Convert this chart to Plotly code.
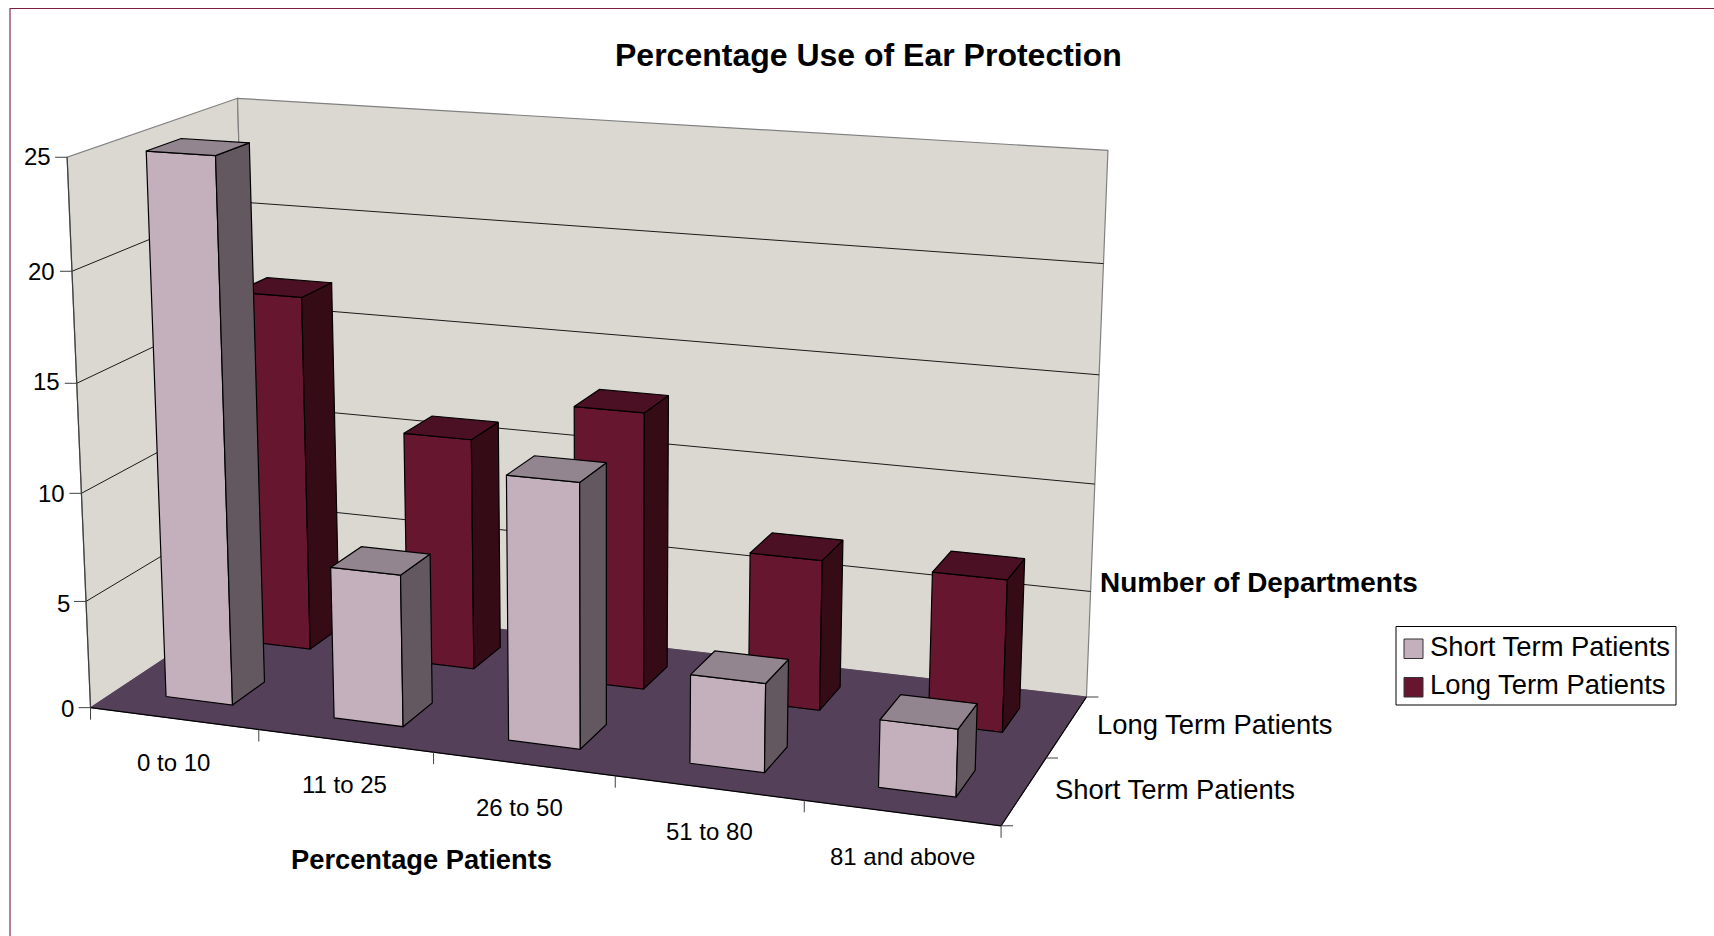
import numpy as np
import plotly.graph_objects as go

# Chart data
categories = ["0 to 10", "11 to 25", "26 to 50", "51 to 80", "81 and above"]
series_names = ["Short Term Patients", "Long Term Patients"]
short_term = [25, 7, 12, 4, 3]
long_term = [17, 11, 13, 7, 7]
z_ticks = [0, 5, 10, 15, 20, 25]
z_max = 25

FONT = "Liberation Sans"
SHORT = dict(front="#C3B0BC", side="#63585F", top="#93858F")
LONG = dict(front="#66172F", side="#350B16", top="#4B1023")
WALL = "#DAD8D0"
FLOOR = "#55405A"
EDGE = "#808080"

# Pinhole camera for the 3D box: unit-cube corners (x, y, z) and where they land on the page.
cube = [(0, 0, 0), (1, 0, 0), (1, 1, 0), (0, 1, 0), (0, 1, 1), (1, 1, 1), (0, 0, 1)]
page = [(90.7, 708), (1000.7, 826), (1086.7, 696.7), (252, 600.4),
        (237.3, 98.7), (1108, 150.5), (67.3, 156.7)]


def solve_camera(world, image):
    rows = []
    for (x, y, z), (u, v) in zip(world, image):
        rows.append([x, y, z, 1, 0, 0, 0, 0, -u * x, -u * y, -u * z, -u])
        rows.append([0, 0, 0, 0, x, y, z, 1, -v * x, -v * y, -v * z, -v])
    return np.linalg.svd(np.array(rows, float))[2][-1].reshape(3, 4)


CAMERA = solve_camera(cube, page)


def project(x, y, z):
    """x in category units (0..5), y in series units (0..2), z in departments."""
    p = CAMERA @ np.array([x / len(categories), y / 2, z / z_max, 1.0])
    return float(p[0] / p[2]), float(p[1] / p[2])


def polygon(points):
    xy = [project(*pt) for pt in points + points[:1]]
    return [a for a, _ in xy], [b for _, b in xy]


fig = go.Figure()


def add_face(points, fill, line_color="black", line_width=1.2, name=None):
    xs, ys = polygon(points)
    fig.add_trace(go.Scatter(x=xs, y=ys, mode="lines", fill="toself", fillcolor=fill,
                             line=dict(color=line_color, width=line_width),
                             showlegend=False, hoverinfo="skip", name=name))


def add_line(a, b, color="black", width=1.0):
    xs, ys = zip(project(*a), project(*b))
    fig.add_trace(go.Scatter(x=xs, y=ys, mode="lines", line=dict(color=color, width=width),
                             showlegend=False, hoverinfo="skip"))


def add_tick(x0, y0, dx, dy):
    fig.add_trace(go.Scatter(x=[x0, x0 + dx], y=[y0, y0 + dy], mode="lines",
                             line=dict(color="#404040", width=1), showlegend=False, hoverinfo="skip"))


n = len(categories)

# Walls and floor
add_face([(0, 0, 0), (0, 2, 0), (0, 2, z_max), (0, 0, z_max)], WALL, EDGE, 1.2)
add_face([(0, 2, 0), (n, 2, 0), (n, 2, z_max), (0, 2, z_max)], WALL, EDGE, 1.2)
add_face([(0, 0, 0), (n, 0, 0), (n, 2, 0), (0, 2, 0)], FLOOR, FLOOR, 1.0)

# Gridlines across both walls
for z in z_ticks[1:-1]:
    add_line((0, 0, z), (0, 2, z), "#1a1a1a", 1.0)
    add_line((0, 2, z), (n, 2, z), "#1a1a1a", 1.0)

# Floor edges and axis ticks
add_line((0, 0, 0), (0, 0, z_max), "#404040", 1.2)
add_line((0, 0, 0), (n, 0, 0), "black", 1.2)
add_line((n, 0, 0), (n, 2, 0), "black", 1.2)
for z in z_ticks:
    add_tick(*project(0, 0, z), -12, 0)
for i in range(n + 1):
    add_tick(*project(i, 0, 0), 0, 12)
for j in range(3):
    add_tick(*project(n, j, 0), 12, 0)

# Bars, back row first so the front row covers it
GAP_X = 0.3
GAP_Y = 0.3
for row, values, colors, name in [(1, long_term, LONG, series_names[1]),
                                  (0, short_term, SHORT, series_names[0])]:
    y0, y1 = row + GAP_Y, row + 1 - GAP_Y
    for i, v in enumerate(values):
        x0, x1 = i + GAP_X, i + 1 - GAP_X
        add_face([(x0, y0, 0), (x1, y0, 0), (x1, y0, v), (x0, y0, v)], colors["front"], name=name)
        add_face([(x1, y0, 0), (x1, y1, 0), (x1, y1, v), (x1, y0, v)], colors["side"], name=name)
        add_face([(x0, y0, v), (x1, y0, v), (x1, y1, v), (x0, y1, v)], colors["top"], name=name)


def label(x, y, text, size, bold=False, xanchor="center"):
    fig.add_annotation(x=x, y=y, text=f"<b>{text}</b>" if bold else text, showarrow=False,
                       xanchor=xanchor, yanchor="middle", xref="x", yref="y",
                       font=dict(family=FONT, size=size, color="black"))


# Value labels beside the left wall's front edge, with small per-label adjustments
value_nudge = {0: 0.5, 5: 2.5, 10: 0.5, 15: -1.5, 20: 0.5, 25: -0.5}
for z in z_ticks:
    x0, y0 = project(0, 0, z)
    label(x0 - 14.5, y0 + value_nudge[z], str(z), 24, xanchor="right")

# Category labels sit below the front edge, with a small per-label adjustment
category_nudge = [1, 0.5, -3, 2, 2]
for i, cat in enumerate(categories):
    x0, y0 = project(i + 0.5, 0, 0)
    label(x0 - 1 + category_nudge[i], y0 + 44, cat, 24)

for j, name in enumerate(series_names):
    x0, y0 = project(n, j + 0.5, 0)
    label(x0 + 28.5, y0 - 1 - j, name, 27.4, xanchor="left")

label(868.5, 55, "Percentage Use of Ear Protection", 32, bold=True)
label(421, 859, "Percentage Patients", 27.3, bold=True)
label(1097.5, 582.5, "Number of Departments", 27.9, bold=True, xanchor="left")

# Legend box with one swatch per series
legend_shapes = [dict(type="rect", xref="x", yref="y", x0=1396, x1=1676, y0=626.5, y1=705,
                      fillcolor="white", line=dict(color="black", width=1))]
for (top, bottom), colors, name, drop in zip([(639, 658.5), (677.5, 697)], [SHORT, LONG],
                                             series_names, [2, 3]):
    legend_shapes.append(dict(type="rect", xref="x", yref="y", x0=1404, x1=1423, y0=top, y1=bottom,
                              fillcolor=colors["front"], line=dict(color="#333333", width=1)))
    label(1427.5, (top + bottom) / 2 - drop, name, 27.4, xanchor="left")

frame_shapes = [
    dict(type="line", xref="x", yref="y", x0=9.5, x1=1714, y0=8.5, y1=8.5,
         line=dict(color="#7A1F3F", width=1.2)),
    dict(type="line", xref="x", yref="y", x0=10, x1=10, y0=8.5, y1=936,
         line=dict(color="#96587A", width=1.5)),
]

fig.update_layout(
    width=1714, height=936, margin=dict(l=0, r=0, t=0, b=0),
    paper_bgcolor="white", plot_bgcolor="white", showlegend=False,
    xaxis=dict(range=[0, 1714], visible=False, fixedrange=True),
    yaxis=dict(range=[936, 0], visible=False, fixedrange=True),
    shapes=frame_shapes + legend_shapes,
)

fig.write_html("out.html")
